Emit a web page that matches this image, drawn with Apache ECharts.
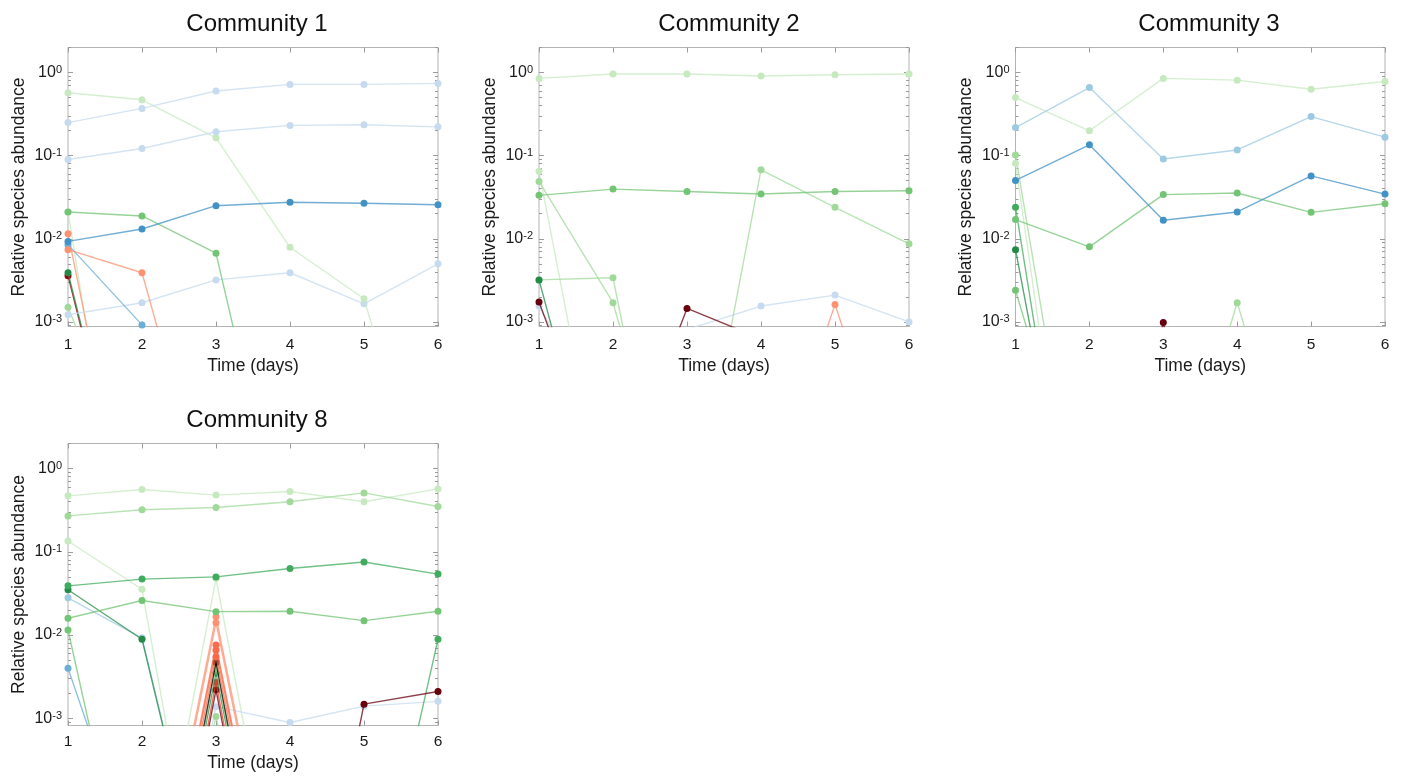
<!DOCTYPE html>
<html>
<head>
<meta charset="utf-8">
<script src="https://cdn.jsdelivr.net/npm/echarts@6/dist/echarts.min.js"></script>
<style>
html,body{margin:0;padding:0;background:#fff;}
#chart{width:1406px;height:777px;}
</style>
</head>
<body>
<div id="chart"></div>
<script>
// ---------- data ----------
const panelTitles = ['Community 1', 'Community 2', 'Community 3', 'Community 8'];
const days = [1, 2, 3, 4, 5, 6];
const xTicks = [1, 2, 3, 4, 5, 6];
const yMajorTicks = [0.001, 0.01, 0.1, 1];
const yMinorTicks = [0.0009, 0.002, 0.003, 0.004, 0.005, 0.006, 0.007, 0.008, 0.009,
  0.02, 0.03, 0.04, 0.05, 0.06, 0.07, 0.08, 0.09,
  0.2, 0.3, 0.4, 0.5, 0.6, 0.7, 0.8, 0.9, 2];
const xName = 'Time (days)';
const yName = 'Relative species abundance';

// Community 1
const c1_blueA   = [0.25, 0.37, 0.60, 0.72, 0.72, 0.74];
const c1_blueB   = [0.09, 0.122, 0.194, 0.231, 0.235, 0.222];
const c1_greenA  = [0.57, 0.47, 0.164, 0.0079, 0.0019, 0.000002];
const c1_blueC   = [0.0093, 0.0131, 0.025, 0.0275, 0.0267, 0.0257];
const c1_greenB  = [0.021, 0.0188, 0.0067, 0.000001, 0.0000001, 0.0000001];
const c1_redA    = [0.0074, 0.0039, 0.0000025, 0.0000001, 0.0000001, 0.0000001];
const c1_blueD   = [0.0085, 0.00092, 0.000001, 0.0000001, 0.0000001, 0.0000001];
const c1_blueE   = [0.00122, 0.0017, 0.0032, 0.0039, 0.00165, 0.0050];
const c1_redB    = [0.0115, 0.0000005, 0.0000001, 0.0000001, 0.0000001, 0.0000001];
const c1_greenC  = [0.0039, 0.0000011, 0.0000001, 0.0000001, 0.0000001, 0.0000001];
const c1_redC    = [0.0036, 0.000001, 0.0000001, 0.0000001, 0.0000001, 0.0000001];
const c1_greenD  = [0.0015, 0.00001, 0.0000001, 0.0000001, 0.0000001, 0.0000001];
const c1_greenE  = [0.021, 0.00000006, 0.0000001, 0.0000001, 0.0000001, 0.0000001];

// Community 2
const c2_greenA  = [0.85, 0.96, 0.96, 0.91, 0.94, 0.96];
const c2_greenB  = [0.0333, 0.0396, 0.037, 0.0345, 0.037, 0.0378];
const c2_greenC  = [0.049, 0.0017, 0.0000014, 0.0676, 0.0239, 0.0087];
const c2_greenD  = [0.065, 0.0000016, 0.0000001, 0.0000001, 0.0000001, 0.0000001];
const c2_greenE  = [0.0032, 0.0034, 0.00000013, 0.0000001, 0.0000001, 0.0000001];
const c2_greenF  = [0.0032, 0.0000016, 0.0000001, 0.0000001, 0.0000001, 0.0000001];
const c2_redA    = [0.00174, 0.000007, 0.00145, 0.00063, 0.000001, 0.000001];
const c2_blueA   = [0.00155, 0.00004, 0.00081, 0.00155, 0.0021, 0.001];
const c2_redB    = [0.0000001, 0.0000001, 0.0000001, 0.0000035, 0.00162, 0.0000035];

// Community 3
const c3_greenA  = [0.50, 0.199, 0.85, 0.81, 0.63, 0.78];
const c3_blueA   = [0.218, 0.66, 0.091, 0.117, 0.295, 0.167];
const c3_blueB   = [0.0504, 0.135, 0.0167, 0.021, 0.057, 0.0345];
const c3_greenB  = [0.017, 0.0080, 0.034, 0.0355, 0.0208, 0.0264];
const c3_greenC  = [0.102, 0.0000005, 0.0000001, 0.0000001, 0.0000001, 0.0000001];
const c3_greenD  = [0.081, 0.00000005, 0.0000001, 0.0000001, 0.0000001, 0.0000001];
const c3_greenE  = [0.024, 0.00000007, 0.0000001, 0.0000001, 0.0000001, 0.0000001];
const c3_greenF  = [0.0074, 0.00000016, 0.0000001, 0.0000001, 0.0000001, 0.0000001];
const c3_greenG  = [0.0024, 0.0000025, 0.0000001, 0.0000001, 0.0000001, 0.0000001];
const c3_redA    = [0.0000001, 0.0000001, 0.00098, 0.0000001, 0.0000001, 0.0000001];
const c3_greenH  = [0.0000001, 0.0000001, 0.000002, 0.0017, 0.000002, 0.0000001];

// Community 8
const c8_greenA  = [0.47, 0.56, 0.48, 0.53, 0.40, 0.57];
const c8_greenB  = [0.27, 0.32, 0.34, 0.40, 0.51, 0.35];
const c8_greenC  = [0.039, 0.047, 0.050, 0.063, 0.0755, 0.054];
const c8_greenD  = [0.0159, 0.026, 0.0191, 0.0193, 0.0149, 0.0193];
const c8_greenE  = [0.135, 0.0355, 0.0000004, 0.0000001, 0.0000001, 0.0000001];
const c8_blueA   = [0.028, 0.0092, 0.000002, 0.0000001, 0.0000001, 0.0000001];
const c8_greenF  = [0.035, 0.0089, 0.0000018, 0.0000001, 0.0000001, 0.0000001];
const c8_greenG  = [0.0115, 0.0000012, 0.0000001, 0.0000001, 0.0000001, 0.0000001];
const c8_blueB   = [0.0040, 0.00001, 0.0000001, 0.0000001, 0.0000001, 0.0000001];
const c8_greenH  = [0.0000001, 0.0000001, 0.0000001, 0.0000001, 0.000001, 0.0089];
const c8_redA    = [0.0000001, 0.0000001, 0.0000001, 0.00000006, 0.00148, 0.0021];
const c8_blueC   = [0.0000001, 0.0000001, 0.00138, 0.00089, 0.0014, 0.0016];
const c8_spikeG1 = [0.0000001, 0.000001, 0.048, 0.000001, 0.0000001, 0.0000001];
const c8_spikeR1 = [0.0000001, 0.0000007, 0.0166, 0.0000007, 0.0000001, 0.0000001];
const c8_spikeR2 = [0.0000001, 0.0000006, 0.0141, 0.0000006, 0.0000001, 0.0000001];
const c8_spikeR3 = [0.0000001, 0.0000003, 0.0076, 0.0000003, 0.0000001, 0.0000001];
const c8_spikeR4 = [0.0000001, 0.0000003, 0.0066, 0.0000003, 0.0000001, 0.0000001];
const c8_spikeR5 = [0.0000001, 0.0000002, 0.0055, 0.0000002, 0.0000001, 0.0000001];
const c8_spikeK  = [0.0000001, 0.0000001, 0.0047, 0.0000001, 0.0000001, 0.0000001];
const c8_spikeG2 = [0.0000001, 0.0000001, 0.0041, 0.0000001, 0.0000001, 0.0000001];
const c8_spikeG3 = [0.0000001, 0.0000001, 0.0035, 0.0000001, 0.0000001, 0.0000001];
const c8_spikeR6 = [0.0000001, 0.00000005, 0.0027, 0.00000005, 0.0000001, 0.0000001];
const c8_spikeR7 = [0.0000001, 0.00000005, 0.0022, 0.00000005, 0.0000001, 0.0000001];
const c8_spikeG4 = [0.0000001, 0.0000001, 0.00105, 0.0000001, 0.0000001, 0.0000001];

// ---------- styles ----------
const COL = {
  vlgreen: '#c7e9c0', lgreen: '#a1d99b', green: '#74c476', mgreen: '#41ab5d', dgreen: '#238b45',
  vlblue: '#c6dbef', lblue: '#9ecae1', mblue: '#6baed6', blue: '#4292c6',
  salmon: '#fc9272', orange: '#fb6a4a', red: '#ef3b2c', dred: '#67000d', brown: '#99000d', black: '#000000'
};

const panels = [
  [[c1_greenE, 'vlgreen'], [c1_greenD, 'lgreen'], [c1_redC, 'brown'], [c1_greenC, 'dgreen'], [c1_redB, 'salmon'],
   [c1_blueE, 'vlblue'], [c1_blueD, 'mblue'], [c1_redA, 'salmon'], [c1_greenB, 'green'],
   [c1_greenA, 'vlgreen'], [c1_blueB, 'vlblue'], [c1_blueA, 'vlblue'], [c1_blueC, 'blue']],
  [[c2_blueA, 'vlblue'], [c2_greenD, 'vlgreen'], [c2_greenE, 'lgreen'], [c2_greenF, 'dgreen'], [c2_greenC, 'lgreen'],
   [c2_redB, 'salmon'], [c2_redA, 'dred'], [c2_greenA, 'vlgreen'], [c2_greenB, 'green']],
  [[c3_greenC, 'lgreen'], [c3_greenD, 'vlgreen'], [c3_greenE, 'mgreen'], [c3_greenF, 'dgreen'], [c3_greenG, 'green'],
   [c3_greenH, 'lgreen'], [c3_redA, 'dred'], [c3_greenA, 'vlgreen'], [c3_blueA, 'lblue'], [c3_greenB, 'green'], [c3_blueB, 'blue']],
  [[c8_spikeG1, 'vlgreen'], [c8_greenE, 'vlgreen'], [c8_blueA, 'lblue'], [c8_greenF, 'dgreen'], [c8_greenG, 'green'],
   [c8_blueB, 'mblue'], [c8_blueC, 'vlblue'], [c8_spikeG4, 'lgreen'], [c8_spikeR7, 'dred'], [c8_spikeR6, 'red'],
   [c8_spikeG3, 'dgreen'], [c8_spikeG2, 'lgreen'], [c8_spikeK, 'black'], [c8_spikeR5, 'orange'], [c8_spikeR4, 'orange'],
   [c8_spikeR3, 'orange'], [c8_spikeR2, 'salmon'], [c8_spikeR1, 'salmon'],
   [c8_greenH, 'mgreen'], [c8_redA, 'dred'], [c8_greenA, 'vlgreen'], [c8_greenB, 'lgreen'], [c8_greenD, 'green'], [c8_greenC, 'mgreen']]
];

// layout (pixels)
const grids = [
  {left: 68, top: 47.5, width: 370, height: 279},
  {left: 539, top: 47.5, width: 370, height: 279},
  {left: 1015.5, top: 47.5, width: 369.5, height: 279},
  {left: 68, top: 443.5, width: 370, height: 282}
];
const yRange = [[0.00088, 2.0], [0.00088, 2.0], [0.00088, 2.0], [0.00082, 2.0]];
const titlePos = [[257, 12], [729, 12], [1209, 12], [257, 408]];

const FONT = 'Liberation Sans, Arial, Helvetica, sans-serif';
const TXT = '#1a1a1a';
const AX = '#9c9c9c';

const option = {
  animation: false,
  backgroundColor: '#ffffff',
  textStyle: {fontFamily: FONT},
  title: panelTitles.map((t, i) => ({
    text: t, left: titlePos[i][0], top: titlePos[i][1], textAlign: 'center', padding: 0,
    textStyle: {fontSize: 24, fontWeight: 'normal', color: '#111', fontFamily: FONT}
  })),
  grid: grids.map(g => Object.assign({show: true, borderColor: '#b3b3b3', borderWidth: 1, backgroundColor: '#fff', containLabel: false}, g)),
  xAxis: [],
  yAxis: [],
  series: []
};

const supStyle = {
  b: {fontSize: 16, color: TXT, fontFamily: FONT, lineHeight: 16, verticalAlign: 'bottom'},
  s: {fontSize: 11, color: TXT, fontFamily: FONT, lineHeight: 12, verticalAlign: 'top'}
};

grids.forEach((g, p) => {
  const baseX = {type: 'value', gridIndex: p, min: 1, max: 6, interval: 1,
    splitLine: {show: false}, axisLine: {show: false, onZero: false}};
  option.xAxis.push(Object.assign({}, baseX, {
    position: 'bottom',
    axisTick: {show: true, inside: true, length: 5, lineStyle: {color: AX}},
    axisLabel: {show: true, fontSize: 15.5, color: TXT, margin: p === 3 ? 8 : 10, fontFamily: FONT,
      customValues: xTicks},
    name: xName, nameLocation: 'middle', nameGap: p === 3 ? 29 : 31,
    nameTextStyle: {fontSize: 17.5, color: TXT, fontFamily: FONT}
  }));
  option.xAxis.push(Object.assign({}, baseX, {
    position: 'top',
    axisTick: {show: true, inside: true, length: 5, lineStyle: {color: AX}},
    axisLabel: {show: false}
  }));
  const baseY = {type: 'log', logBase: 10, gridIndex: p, min: yRange[p][0], max: yRange[p][1],
    splitLine: {show: false}, axisLine: {show: false}, minorTick: {show: false}};
  option.yAxis.push(Object.assign({}, baseY, {
    position: 'left',
    axisTick: {show: true, inside: true, length: 5, customValues: yMajorTicks, lineStyle: {color: AX}},
    axisLabel: {show: true, customValues: yMajorTicks, margin: 6,
      formatter: v => '{b|10}{s|' + Math.round(Math.log10(v)) + '}', rich: supStyle},
    name: yName, nameLocation: 'middle', nameGap: 40,
    nameTextStyle: {fontSize: 17.5, color: TXT, fontFamily: FONT}
  }));
  option.yAxis.push(Object.assign({}, baseY, {
    position: 'left',
    axisTick: {show: true, inside: true, length: 3, customValues: yMinorTicks, lineStyle: {color: AX}},
    axisLabel: {show: false}
  }));
  option.yAxis.push(Object.assign({}, baseY, {
    position: 'right',
    axisTick: {show: true, inside: true, length: 5, customValues: yMajorTicks, lineStyle: {color: AX}},
    axisLabel: {show: false}
  }));
  option.yAxis.push(Object.assign({}, baseY, {
    position: 'right',
    axisTick: {show: true, inside: true, length: 3, customValues: yMinorTicks, lineStyle: {color: AX}},
    axisLabel: {show: false}
  }));

  panels[p].forEach((entry, k) => {
    const vals = entry[0];
    const c = COL[entry[1]];
    option.series.push({
      type: 'line', xAxisIndex: 2 * p, yAxisIndex: 4 * p,
      data: days.map((d, i) => [d, vals[i]]),
      symbol: 'circle', symbolSize: 7, showSymbol: true, clip: true, silent: true,
      lineStyle: {width: 1.4, color: c, opacity: 0.75},
      itemStyle: {color: c},
      z: 2 + k * 0.01
    });
  });
});

const chart = echarts.init(document.getElementById('chart'), null, {renderer: 'canvas'});
chart.setOption(option);
</script>
</body>
</html>
